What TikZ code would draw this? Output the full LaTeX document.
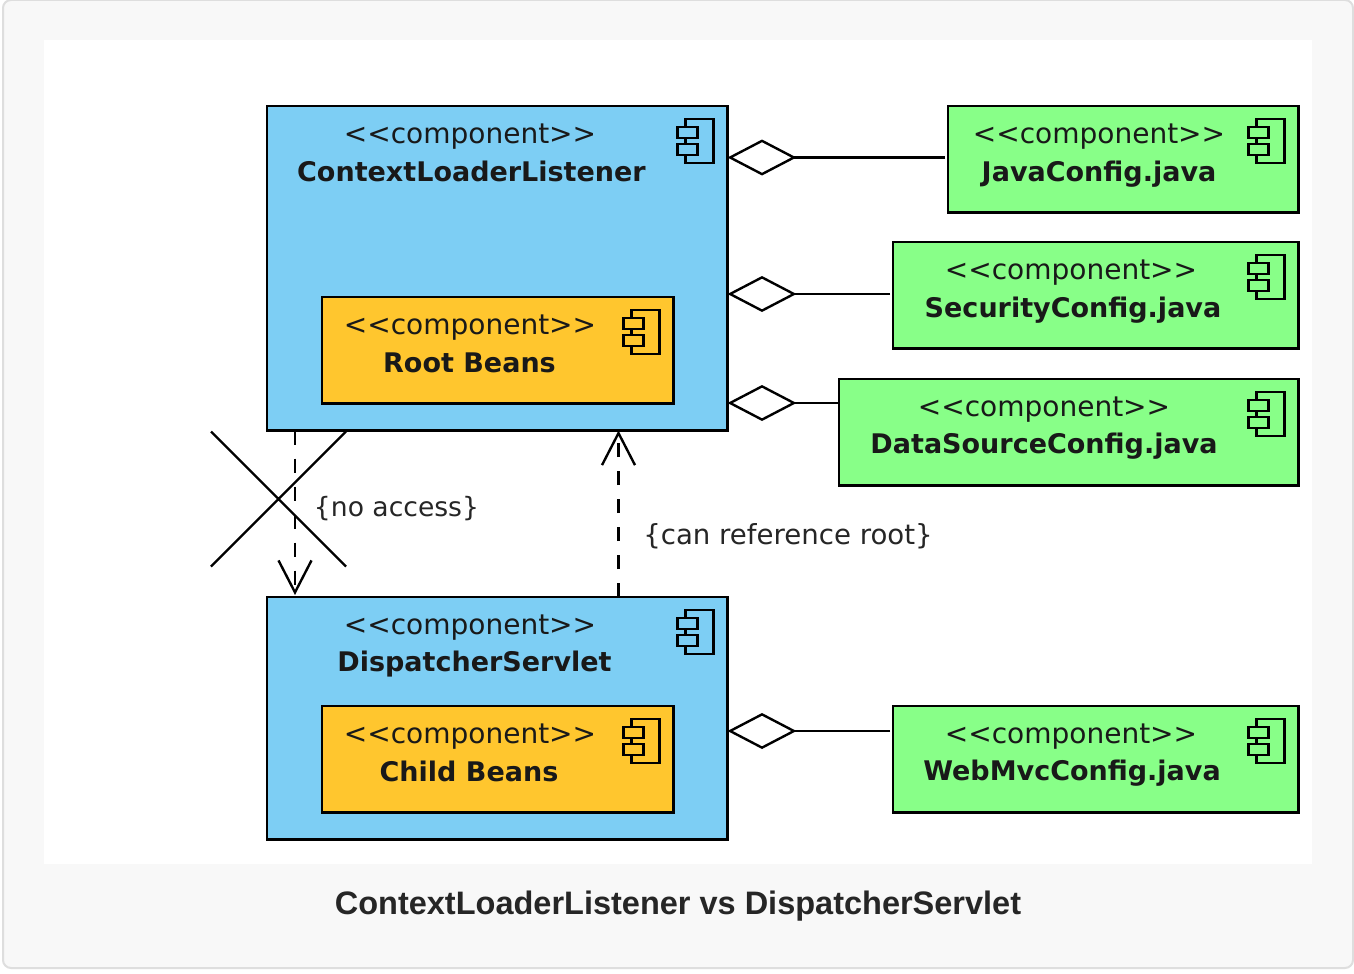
\documentclass[tikz,border=0pt]{standalone}
\usepackage{fontspec}
\setmainfont{DejaVu Sans}
\newfontfamily\captionfont{Liberation Sans}
\usetikzlibrary{arrows.meta, shapes.misc}
\definecolor{panelgray}{HTML}{F8F8F8}
\definecolor{bordergray}{HTML}{DEDEDE}
\definecolor{springblue}{HTML}{7DCEF4}
\definecolor{beanorange}{HTML}{FFC62E}
\definecolor{configgreen}{HTML}{88FF88}
\tikzset{
    x=1pt, y=-1pt,
    compbox/.style={draw=black, line width=2.8pt, anchor=north west, outer sep=0pt, inner sep=0pt},
    stereo/.style={font=\fontsize{28}{32}\selectfont, text=black!90},
    compname/.style={font=\fontsize{27}{32}\selectfont\bfseries, text=black!90},
    constraint/.style={font=\fontsize{27.6}{32}\selectfont, text=black!85},
    aggr/.style={line width=2.8pt, -{Diamond[fill=white, length=69pt, width=36pt, line width=2.4pt]}},
    dep/.style={line width=2.8pt, dash pattern=on 14pt off 14pt, -{Straight Barb[length=32pt, width=33pt, line width=2.4pt]}},
    pics/compicon/.style={code={
        \draw[line width=2.8pt] (-42,13) rectangle (-14,57);
        \draw[line width=2.8pt, fill=#1] (-50,21) rectangle (-30,32);
        \draw[line width=2.8pt, fill=#1] (-50,38) rectangle (-30,49);
    }},
}
\begin{document}
\begin{tikzpicture}
    \useasboundingbox (0,0) rectangle (1354,974);
    \fill[white] (0,0) rectangle (1354,974);
    \draw[bordergray, fill=panelgray, line width=2pt, rounded corners=8pt] (3,0) rectangle (1353,968);
    \fill[white] (44,40) rectangle (1312,864);

    % containers
    \node[compbox, fill=springblue, minimum width=460.5pt, minimum height=324.5pt] at (267,106) (CLL) {};
    \node[compbox, fill=beanorange, minimum width=351.5pt, minimum height=106.5pt] at (322,297) (ROOT) {};
    \node[compbox, fill=springblue, minimum width=460.5pt, minimum height=242.5pt] at (267,597) (DS) {};
    \node[compbox, fill=beanorange, minimum width=351.5pt, minimum height=106.5pt] at (322,706) (CHILD) {};

    % config files
    \node[compbox, fill=configgreen, minimum width=350.5pt, minimum height=106.5pt] at (948,106) (JAVACFG) {};
    \node[compbox, fill=configgreen, minimum width=405.5pt, minimum height=106.5pt] at (893,242) (SECCFG) {};
    \node[compbox, fill=configgreen, minimum width=459.5pt, minimum height=106.5pt] at (839,379) (DATACFG) {};
    \node[compbox, fill=configgreen, minimum width=405.5pt, minimum height=106.5pt] at (893,706) (WEBCFG) {};

    % labels
    \node[stereo] at (470,137) (CLLS) {{<}{<}component{>}{>}};
    \node[compname] at (471.5,171) (CLLN) {ContextLoaderListener};
    \node[stereo] at (470,328) (ROOTS) {{<}{<}component{>}{>}};
    \node[compname] at (469.5,363) (ROOTN) {Root Beans};
    \node[stereo] at (470,628) (DSS) {{<}{<}component{>}{>}};
    \node[compname] at (474.5,664) (DSN) {DispatcherServlet};
    \node[stereo] at (470,737) (CHILDS) {{<}{<}component{>}{>}};
    \node[compname] at (469,771) (CHILDN) {Child Beans};
    \node[stereo] at (1099,137) (JAVAS) {{<}{<}component{>}{>}};
    \node[compname] at (1099,174) (JAVAN) {JavaConfig.java};
    \node[stereo] at (1071,273) (SECS) {{<}{<}component{>}{>}};
    \node[compname] at (1073,310) (SECN) {SecurityConfig.java};
    \node[stereo] at (1044,410) (DATAS) {{<}{<}component{>}{>}};
    \node[compname] at (1044,446) (DATAN) {DataSourceConfig.java};
    \node[stereo] at (1071,737) (WEBS) {{<}{<}component{>}{>}};
    \node[compname] at (1072,773.5) (WEBN) {WebMvcConfig.java};

    % icons
    \foreach \boxname/\boxfill in {CLL/springblue, ROOT/beanorange, DS/springblue, CHILD/beanorange, JAVACFG/configgreen, SECCFG/configgreen, DATACFG/configgreen, WEBCFG/configgreen}
        \pic at (\boxname.north east) {compicon=\boxfill};

    % aggregations
    \draw[aggr] ([xshift=-3pt,yshift=-51.5pt]JAVACFG.north west) -- ([yshift=-51.5pt]CLL.north east);
    \draw[aggr] ([xshift=-3pt,yshift=-52pt]SECCFG.north west) -- ([yshift=-188pt]CLL.north east);
    \draw[aggr] ([yshift=-24pt]DATACFG.north west) -- ([yshift=-297pt]CLL.north east);
    \draw[aggr] ([xshift=-3pt,yshift=-25pt]WEBCFG.north west) -- ([yshift=-134pt]DS.north east);

    % dependencies
    \draw[dep] ([xshift=28pt]CLL.south west) -- ([xshift=28pt,yshift=2pt]DS.north west);
    \draw[dep] ([xshift=351.5pt]DS.north west) -- ([xshift=351.5pt]CLL.south west);
    \node[draw=black, line width=2.4pt, cross out, minimum size=135pt, inner sep=0pt, outer sep=0pt] at (278.5,499) (NOACCESS) {};
    \node[constraint, font=\fontsize{26.6}{32}\selectfont] at (396.5,509) (NOACCESSL) {\{no access\}};
    \node[constraint] at (788,536) (CANREFL) {\{can reference root\}};

    \node[font=\fontsize{32.5}{38}\selectfont\captionfont\bfseries, text=black!85] at (678,906) (CAPTION) {ContextLoaderListener vs DispatcherServlet};
\end{tikzpicture}
\end{document}
